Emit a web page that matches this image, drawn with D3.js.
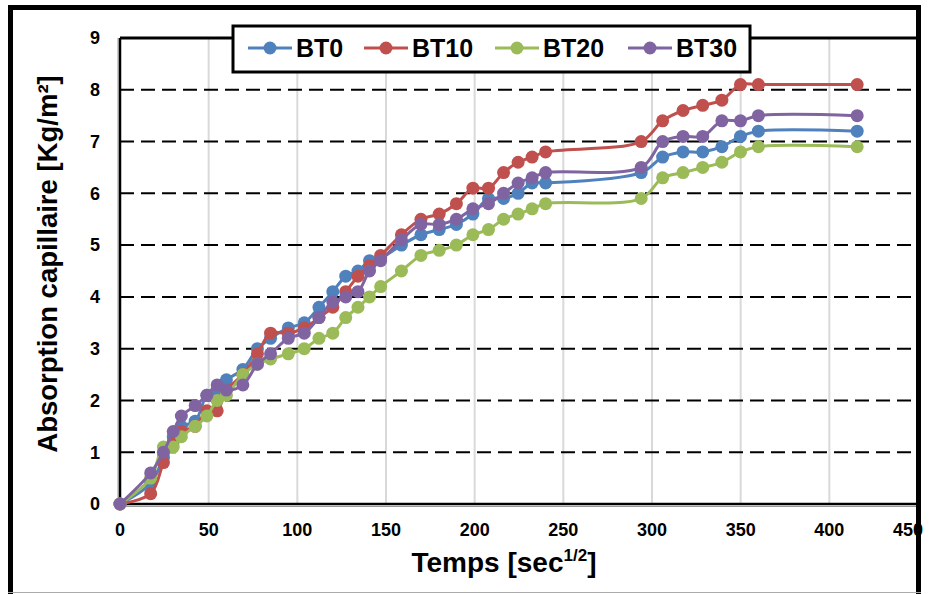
<!DOCTYPE html>
<html>
<head>
<meta charset="utf-8">
<script src="https://cdn.jsdelivr.net/npm/d3@7"></script>
<style>
	body { margin: 0; background: #fff; }
	svg { display: block; }
	text { font-family: "Liberation Sans", Arial, sans-serif; font-weight: bold; fill: #000; }
</style>
</head>
<body>
<div id="chart"></div>
<script>
// time axis, sqrt of seconds
const times = [0, 17.3, 24.5, 30, 34.6, 42.4, 49, 54.8, 60, 69.3, 77.5, 84.9, 94.9, 103.9, 112.2, 120, 127.3, 134.2, 140.7, 147,
	158.7, 169.7, 180, 189.7, 199, 207.8, 216.3, 224.5, 232.4, 240, 293.9, 306, 317.5, 328.6, 339.4, 349.9, 360, 415.7]

const bt0 = [0, 0.4, 0.9, 1.3, 1.5, 1.6, 2.1, 2.2, 2.4, 2.6, 3.0, 3.2, 3.4, 3.5, 3.8, 4.1, 4.4, 4.5, 4.7, 4.75,
	5.0, 5.2, 5.3, 5.4, 5.6, 5.9, 5.9, 6.0, 6.2, 6.2, 6.4, 6.7, 6.8, 6.8, 6.9, 7.1, 7.2, 7.2]
const bt10 = [0, 0.2, 0.8, 1.2, 1.4, 1.5, 1.8, 1.8, 2.2, 2.5, 2.9, 3.3, 3.3, 3.4, 3.6, 3.8, 4.1, 4.4, 4.6, 4.8,
	5.2, 5.5, 5.6, 5.8, 6.1, 6.1, 6.4, 6.6, 6.7, 6.8, 7.0, 7.4, 7.6, 7.7, 7.8, 8.1, 8.1, 8.1]
const bt20 = [0, 0.5, 1.1, 1.1, 1.3, 1.5, 1.7, 2.0, 2.1, 2.5, 2.7, 2.8, 2.9, 3.0, 3.2, 3.3, 3.6, 3.8, 4.0, 4.2,
	4.5, 4.8, 4.9, 5.0, 5.2, 5.3, 5.5, 5.6, 5.7, 5.8, 5.9, 6.3, 6.4, 6.5, 6.6, 6.8, 6.9, 6.9]
const bt30 = [0, 0.6, 1.0, 1.4, 1.7, 1.9, 2.1, 2.3, 2.2, 2.3, 2.7, 2.9, 3.2, 3.3, 3.6, 3.9, 4.0, 4.1, 4.5, 4.7,
	5.1, 5.4, 5.4, 5.5, 5.7, 5.8, 6.0, 6.2, 6.3, 6.4, 6.5, 7.0, 7.1, 7.1, 7.4, 7.4, 7.5, 7.5]

const seriesNames = ['BT0', 'BT10', 'BT20', 'BT30']
const seriesValues = [bt0, bt10, bt20, bt30]
const seriesColors = ['#4F81BD', '#C0504D', '#9BBB59', '#8064A2']

const xTicks = [0, 50, 100, 150, 200, 250, 300, 350, 400, 450]
const yTicks = [0, 1, 2, 3, 4, 5, 6, 7, 8, 9]

const width = 938
const height = 594
const plot = { left: 120, right: 918, top: 38, bottom: 504 }

const svg = d3.select('#chart')
	.append('svg')
	.attr('width', width)
	.attr('height', height)

const x = d3.scaleLinear().domain([0, 450]).range([plot.left, plot.right])
const y = d3.scaleLinear().domain([0, 9]).range([plot.bottom, plot.top])

// vertical grid (light grey)
svg.append('g')
	.selectAll('line')
	.data(xTicks.filter(d => d > 0 && d < 450))
	.join('line')
	.attr('x1', d => x(d)).attr('x2', d => x(d))
	.attr('y1', plot.top).attr('y2', plot.bottom)
	.attr('stroke', '#d9d9d9')
	.attr('stroke-width', 2)

// horizontal grid (black dashes)
svg.append('g')
	.selectAll('line')
	.data(yTicks.filter(d => d > 0 && d < 9))
	.join('line')
	.attr('x1', plot.left).attr('x2', plot.right)
	.attr('y1', d => y(d)).attr('y2', d => y(d))
	.attr('stroke', '#000')
	.attr('stroke-width', 2)
	.attr('stroke-dasharray', '14,7')

// plot frame
svg.append('line')
	.attr('x1', plot.left).attr('x2', plot.right)
	.attr('y1', plot.top).attr('y2', plot.top)
	.attr('stroke', '#000').attr('stroke-width', 3)
svg.append('line')
	.attr('x1', plot.left - 2).attr('x2', plot.left - 2)
	.attr('y1', plot.top).attr('y2', plot.bottom + 2)
	.attr('stroke', '#999').attr('stroke-width', 1)
svg.append('line')
	.attr('x1', plot.left).attr('x2', plot.left)
	.attr('y1', plot.top).attr('y2', plot.bottom)
	.attr('stroke', '#000').attr('stroke-width', 2.5)
svg.append('line')
	.attr('x1', plot.left).attr('x2', plot.right)
	.attr('y1', plot.bottom).attr('y2', plot.bottom)
	.attr('stroke', '#000').attr('stroke-width', 2.5)
svg.append('line')
	.attr('x1', plot.left).attr('x2', plot.right)
	.attr('y1', plot.bottom + 2.5).attr('y2', plot.bottom + 2.5)
	.attr('stroke', '#999').attr('stroke-width', 1)

// tick labels
svg.append('g')
	.selectAll('text')
	.data(yTicks)
	.join('text')
	.attr('x', 100)
	.attr('y', d => y(d))
	.attr('dy', '0.35em')
	.attr('text-anchor', 'end')
	.attr('font-size', 18)
	.text(d => d)

svg.append('g')
	.selectAll('text')
	.data(xTicks)
	.join('text')
	.attr('x', d => Math.min(x(d), 908))
	.attr('y', 530)
	.attr('dy', '0.35em')
	.attr('text-anchor', 'middle')
	.attr('font-size', 18)
	.text(d => d)

// axis titles
const xTitle = svg.append('text')
	.attr('x', 504)
	.attr('y', 572)
	.attr('text-anchor', 'middle')
	.attr('font-size', 28)
xTitle.append('tspan').text('Temps [sec')
xTitle.append('tspan').attr('font-size', 17).attr('dy', -11).text('1/2')
xTitle.append('tspan').attr('dy', 11).text(']')

svg.append('text')
	.attr('transform', 'translate(57,264) rotate(-90)')
	.attr('text-anchor', 'middle')
	.attr('font-size', 27.5)
	.text('Absorption capillaire [Kg/m²]')

// series
const line = d3.line()
	.x(d => x(d[0]))
	.y(d => y(d[1]))
	.curve(d3.curveCatmullRom.alpha(0.5))

seriesNames.forEach((name, i) => {
	const pts = times.map((t, j) => [t, seriesValues[i][j]])
	const g = svg.append('g')
	g.append('path')
		.attr('d', line(pts))
		.attr('fill', 'none')
		.attr('stroke', seriesColors[i])
		.attr('stroke-width', 3)
	g.selectAll('circle')
		.data(pts)
		.join('circle')
		.attr('cx', d => x(d[0]))
		.attr('cy', d => y(d[1]))
		.attr('r', 6.5)
		.attr('fill', seriesColors[i])
})

// legend
const legend = svg.append('g')
legend.append('rect')
	.attr('x', 233).attr('y', 26)
	.attr('width', 517).attr('height', 46)
	.attr('fill', '#fff')
	.attr('stroke', '#000')
	.attr('stroke-width', 3)

const legendX = [248, 364, 495, 628]
seriesNames.forEach((name, i) => {
	const lx = legendX[i]
	legend.append('line')
		.attr('x1', lx).attr('x2', lx + 44)
		.attr('y1', 48).attr('y2', 48)
		.attr('stroke', seriesColors[i])
		.attr('stroke-width', 3)
	legend.append('circle')
		.attr('cx', lx + 22).attr('cy', 48)
		.attr('r', 6.5)
		.attr('fill', seriesColors[i])
	legend.append('text')
		.attr('x', lx + 48)
		.attr('y', 48)
		.attr('dy', '0.36em')
		.attr('font-size', 25)
		.text(name)
})

// outer frame
svg.append('line').attr('x1', 10.5).attr('x2', 10.5).attr('y1', 5).attr('y2', 594)
	.attr('stroke', '#000').attr('stroke-width', 5)
svg.append('line').attr('x1', 8).attr('x2', 921).attr('y1', 7.5).attr('y2', 7.5)
	.attr('stroke', '#000').attr('stroke-width', 5)
svg.append('line').attr('x1', 918.5).attr('x2', 918.5).attr('y1', 5).attr('y2', 594)
	.attr('stroke', '#000').attr('stroke-width', 5)
svg.append('line').attr('x1', 8).attr('x2', 921).attr('y1', 592.5).attr('y2', 592.5)
	.attr('stroke', '#aaa').attr('stroke-width', 1)
</script>
</body>
</html>
